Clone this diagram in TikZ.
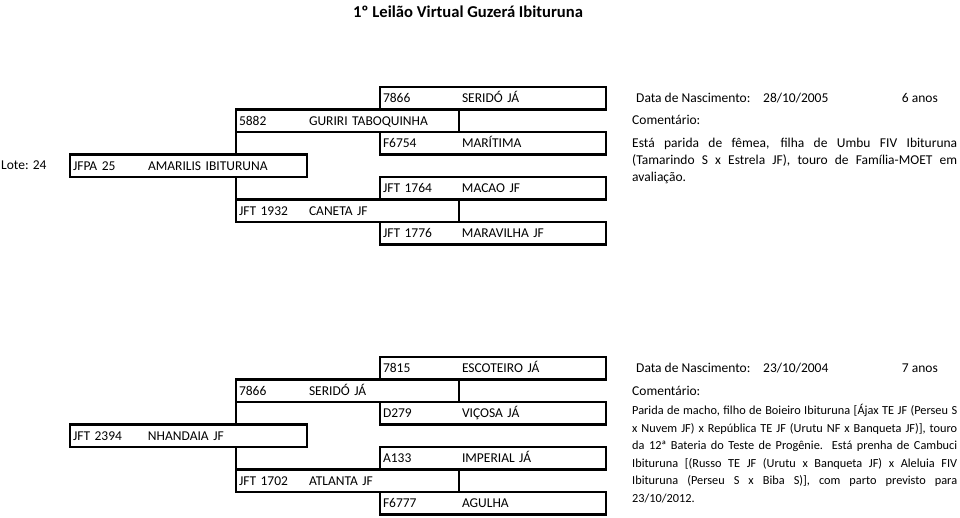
\documentclass[tikz,border=0pt]{standalone}
\usepackage{fontspec}
\setmainfont{Carlito}
\usetikzlibrary{positioning}
\begin{document}
\begin{tikzpicture}[x=1pt, y=-1pt,
        font=\fontsize{13.5}{16}\selectfont,
        animal/.style={rectangle, draw, line width=2.3pt, inner sep=0pt, inner xsep=3pt, outer sep=0pt,
            minimum height=22.5pt, text height=8.7pt, text depth=0pt, align=left, anchor=west},
        gen1/.style={animal, text width=231pt},
        gen2/.style={animal, text width=217pt},
        gen3/.style={animal, text width=220pt},
        info/.style={inner sep=0pt, anchor=base west},
        link/.style={line width=2.3pt}
    ]
    \useasboundingbox (0,0) rectangle (960,518);

    % Title
    \node[font=\fontsize{16.6}{20}\selectfont\bfseries, inner sep=0pt, anchor=base] (title) at (468, 17.3) {1º Leilão Virtual Guzerá Ibituruna};

    % Lote 24
    \node[info] (lote) at (1, 170) {Lote: 24};
    \node[gen3] (r1) at (380, 98.25) {\makebox[79pt][l]{7866}SERIDÓ JÁ};
    \node[gen2] (m1) at (236, 120.75) {\makebox[70pt][l]{5882}GURIRI TABOQUINHA};
    \node[gen3] (r2) at (380, 143.25) {\makebox[79pt][l]{F6754}MARÍTIMA};
    \node[gen1] (f1) at (70, 165.75) {\makebox[75pt][l]{JFPA 25}AMARILIS IBITURUNA};
    \node[gen3] (r3) at (380, 188.25) {\makebox[79pt][l]{JFT 1764}MACAO JF};
    \node[gen2] (m2) at (236, 210.75) {\makebox[70pt][l]{JFT 1932}CANETA JF};
    \node[gen3] (r4) at (380, 233.25) {\makebox[79pt][l]{JFT 1776}MARAVILHA JF};
    \draw[link] (m1.south west) -- (m1.south west |- f1.north);
    \draw[link] (m2.north west) -- (m2.north west |- f1.south);

    \node[info] (dn1) at (636, 102.5) {Data de Nascimento:};
    \node[info] (dt1) at (763, 102.5) {28/10/2005};
    \node[info, anchor=base east] (id1) at (938, 102.5) {6 anos};
    \node[info] (co1) at (632, 125) {Comentário:};
    \node[info, text width=325pt, align=justify, font=\fontsize{13.5}{17}\selectfont] (tx1) at (632, 147.5)
        {Está parida de fêmea, filha de Umbu FIV Ibituruna\linebreak
         (Tamarindo S x Estrela JF), touro de Família-MOET em\linebreak
         avaliação.};

    % Lote JFT 2394
    \node[gen3] (r5) at (380, 368.25) {\makebox[79pt][l]{7815}ESCOTEIRO JÁ};
    \node[gen2] (m3) at (236, 390.75) {\makebox[70pt][l]{7866}SERIDÓ JÁ};
    \node[gen3] (r6) at (380, 413.25) {\makebox[79pt][l]{D279}VIÇOSA JÁ};
    \node[gen1] (f2) at (70, 435.75) {\makebox[75pt][l]{JFT 2394}NHANDAIA JF};
    \node[gen3] (r7) at (380, 458.25) {\makebox[79pt][l]{A133}IMPERIAL JÁ};
    \node[gen2] (m4) at (236, 480.75) {\makebox[70pt][l]{JFT 1702}ATLANTA JF};
    \node[gen3] (r8) at (380, 503.25) {\makebox[79pt][l]{F6777}AGULHA};
    \draw[link] (m3.south west) -- (m3.south west |- f2.north);
    \draw[link] (m4.north west) -- (m4.north west |- f2.south);

    \node[info] (dn2) at (636, 372.5) {Data de Nascimento:};
    \node[info] (dt2) at (763, 372.5) {23/10/2004};
    \node[info, anchor=base east] (id2) at (938, 372.5) {7 anos};
    \node[info] (co2) at (632, 395) {Comentário:};
    \node[info, text width=325pt, align=justify, font=\fontsize{12.3}{17.5}\selectfont] (tx2) at (632, 414.8)
        {Parida de macho, filho de Boieiro Ibituruna [Ájax TE JF (Perseu S\linebreak
         x Nuvem JF) x República TE JF (Urutu NF x Banqueta JF)], touro\linebreak
         da 12ª Bateria do Teste de Progênie.\ \ Está prenha de Cambuci\linebreak
         Ibituruna [(Russo TE JF (Urutu x Banqueta JF) x Aleluia FIV\linebreak
         Ibituruna (Perseu S x Biba S)], com parto previsto para\linebreak
         23/10/2012.};

\end{tikzpicture}
\end{document}
